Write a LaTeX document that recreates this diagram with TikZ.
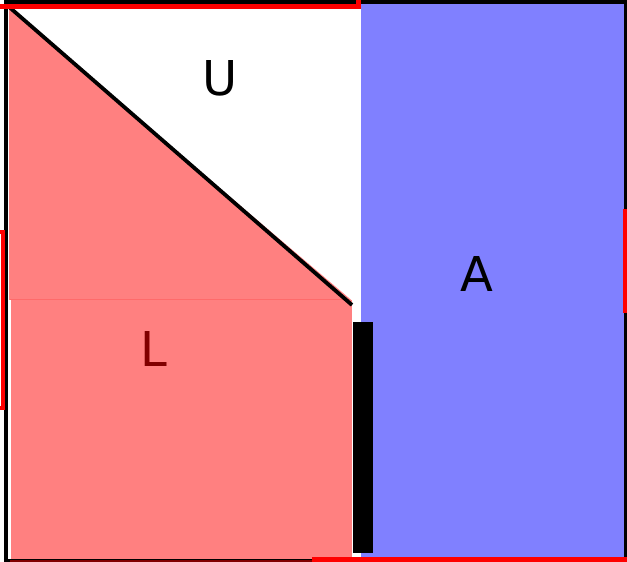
\documentclass[tikz,border=0pt]{standalone}
\usepackage{fontspec}
\setmainfont{DejaVu Sans}
\definecolor{pinkfill}{HTML}{FF8080}
\definecolor{bluefill}{HTML}{8080FF}
\definecolor{darkred}{HTML}{800000}
\definecolor{seam}{HTML}{FF6A6A}
\begin{document}
\begin{tikzpicture}[x=1pt,y=-1pt,
  frame/.style={draw=black,line width=4.5pt},
  redmark/.style={draw=red,line width=4.5pt},
  lbl/.style={font=\fontsize{48}{48}\selectfont,anchor=base,inner sep=0pt}]
\useasboundingbox (0,0) rectangle (627,562);
% fills
\fill[pinkfill] (9,9) -- (9,299.8) -- (351,299.8) -- cycle;
\fill[pinkfill] (11,299.8) rectangle (352,560);
\draw[seam,line width=0.8pt] (10,299.8) -- (350,299.8);
\fill[bluefill] (361,4) rectangle (623.5,557);
% frame
\draw[frame] (6,1.5) rectangle (625.8,561.2);
\draw[darkred,line width=2pt] (10,561.2) -- (312,561.2);
% diagonal
\coordinate (d1) at (8,6);
\coordinate (d2) at (352,305);
\draw[black,line width=3.8pt] (d1) -- (d2);
% bar
\fill[black] (353,322) rectangle (373,553);
% red marks
\draw[redmark] (0,6.6) -- (358.5,6.6) -- (358.5,0);
\draw[red,line width=3.5pt] (0,231.8) -- (3.2,231.8) -- (3.2,408.2) -- (0,408.2);
\draw[redmark] (625.3,209) -- (625.3,313);
\draw[red,line width=5pt] (312,559) -- (627,559);
% labels
\node[lbl] (U) at (220,95.5) {U};
\node[lbl] (A) at (476.5,291.5) {A};
\node[lbl,text=darkred] (L) at (154,366.5) {L};
\end{tikzpicture}
\end{document}
